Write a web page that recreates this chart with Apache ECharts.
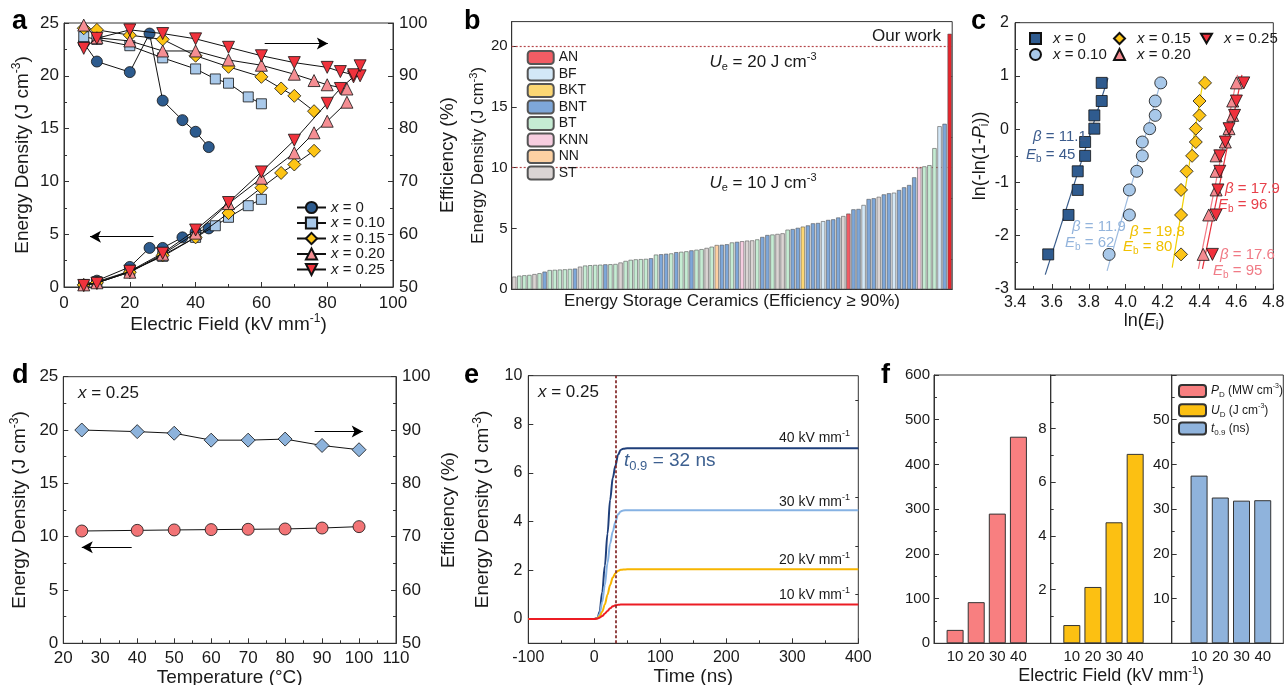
<!DOCTYPE html>
<html>
<head>
<meta charset="utf-8">
<title>Energy storage figure</title>
<script src="https://cdn.jsdelivr.net/npm/echarts@6.0.0/dist/echarts.min.js"></script>
<style>
html,body{margin:0;padding:0;background:#ffffff;}
#chart{width:1285px;height:685px;}
</style>
</head>
<body>
<div id="chart"></div>
<script>
// ===== Panel a: energy density (left) & efficiency (right) vs electric field =====
const fieldA0 = [6, 10, 20, 26, 30, 36, 40, 44];
const edA0 = [0.2, 0.6, 1.9, 3.7, 3.7, 4.7, 5.2, 5.55];
const effA0 = [96.2, 92.7, 90.7, 98.0, 85.3, 81.6, 79.4, 76.5];
const fieldA1 = [6, 10, 20, 30, 40, 46, 50, 56, 60];
const edA1 = [0.2, 0.5, 1.5, 2.9, 4.7, 5.8, 6.6, 7.7, 8.3];
const effA1 = [97.4, 96.9, 95.7, 93.4, 91.3, 89.4, 88.6, 86.0, 84.7];
const fieldA2 = [6, 10, 20, 30, 40, 50, 60, 66, 70, 76];
const edA2 = [0.2, 0.4, 1.4, 3.0, 4.7, 7.0, 9.4, 10.8, 11.6, 12.9];
const effA2 = [99.0, 98.7, 97.7, 96.9, 93.8, 91.7, 89.8, 87.6, 86.2, 83.3];
const fieldA3 = [6, 10, 20, 30, 40, 50, 60, 70, 76, 80, 86];
const edA3 = [0.2, 0.4, 1.4, 3.1, 5.1, 7.9, 10.3, 12.7, 14.6, 15.7, 17.5];
const effA3 = [99.6, 97.2, 96.6, 94.7, 94.7, 93.0, 92.0, 90.3, 89.1, 88.3, 87.5];
const fieldA4 = [6, 10, 20, 30, 40, 50, 60, 70, 80, 84, 88, 90];
const edA4 = [0.15, 0.35, 1.5, 3.2, 5.4, 8.0, 10.9, 13.9, 17.4, 18.8, 19.9, 20.0];
const effA4 = [95.2, 97.1, 98.7, 98.0, 97.0, 95.4, 93.8, 92.5, 91.6, 90.8, 90.2, 91.9];
const compsA = ['0', '0.10', '0.15', '0.20', '0.25'];

// ===== Panel b: literature comparison (energy density, efficiency >= 90%) =====
const valuesB = [
  1.04, 1.12, 1.15, 1.18, 1.25, 1.32, 1.45, 1.58, 1.60, 1.62,
  1.64, 1.67, 1.70, 1.86, 1.95, 1.98, 2.00, 2.02, 2.05, 2.06,
  2.08, 2.20, 2.33, 2.42, 2.46, 2.48, 2.50, 2.55, 2.85, 2.88,
  2.92, 2.95, 3.05, 3.08, 3.12, 3.20, 3.25, 3.30, 3.40, 3.50,
  3.64, 3.66, 3.70, 3.85, 3.90, 3.95, 4.00, 4.02, 4.10, 4.30,
  4.46, 4.50, 4.55, 4.60, 4.90, 4.95, 5.05, 5.15, 5.25, 5.42,
  5.45, 5.60, 5.70, 5.75, 5.90, 6.02, 6.22, 6.57, 6.60, 6.93,
  7.42, 7.48, 7.60, 7.80, 7.89, 7.94, 8.16, 8.38, 8.57, 9.20,
  10.00, 10.10, 10.20, 11.60, 13.40, 13.60, 21.00
];
const typesB = [
  'ST','BT','BT','BT','ST','BT','BNT','BT','BT','BT',
  'BT','BT','BNT','ST','BT','BT','BT','BT','BNT','BT',
  'BT','ST','BT','BT','BT','BT','BT','BNT','BT','BNT',
  'BNT','BT','BNT','BT','BT','BNT','BT','BT','ST','BT',
  'NN','BNT','BNT','BT','BNT','KNN','ST','ST','BT','BNT',
  'BNT','BT','ST','ST','BT','BNT','BNT','BKT','BNT','BNT',
  'BNT','BF','BNT','BNT','BNT','ST','AN','BNT','BNT','BF',
  'BNT','BNT','ST','BNT','BNT','BF','BNT','BNT','BNT','BNT',
  'KNN','BT','BT','BT','BF','BNT','OUR'
];
const ceramicsB = valuesB.map(function (v, i) { return String(i + 1); });
const legendB = ['AN', 'BF', 'BKT', 'BNT', 'BT', 'KNN', 'NN', 'ST'];
const refLinesB = [20, 10];

// ===== Panel c: Weibull plots =====
const probC = [-2.35, -1.61, -1.14, -0.79, -0.50, -0.24, 0.01, 0.26, 0.53, 0.87];
const lnEC0 = [3.58, 3.69, 3.74, 3.74, 3.78, 3.78, 3.83, 3.83, 3.87, 3.87];
const lnEC1 = [3.91, 4.02, 4.02, 4.06, 4.09, 4.09, 4.13, 4.16, 4.16, 4.19];
const lnEC2 = [4.30, 4.30, 4.30, 4.33, 4.36, 4.38, 4.38, 4.40, 4.40, 4.43];
const lnEC3 = [4.42, 4.45, 4.49, 4.49, 4.49, 4.54, 4.56, 4.58, 4.58, 4.60];
const lnEC4 = [4.47, 4.49, 4.50, 4.51, 4.51, 4.54, 4.56, 4.59, 4.60, 4.64];
const fitXC0 = [3.564, 3.904], fitYC0 = [-2.73, 0.96];
const fitXC1 = [3.899, 4.194], fitYC1 = [-2.66, 0.94];
const fitXC2 = [4.252, 4.424], fitYC2 = [-2.60, 1.00];
const fitXC3 = [4.394, 4.606], fitYC3 = [-2.62, 1.02];
const fitXC4 = [4.416, 4.630], fitYC4 = [-2.62, 1.02];
const compsC = ['0', '0.10', '0.15', '0.20', '0.25'];

// ===== Panel d: temperature stability (x = 0.25) =====
const tempD = [25, 40, 50, 60, 70, 80, 90, 100];
const edD = [10.53, 10.59, 10.63, 10.66, 10.69, 10.72, 10.81, 10.94];
const effD = [90.0, 89.7, 89.4, 88.1, 88.1, 88.3, 87.1, 86.3];

// ===== Panel e: discharge energy density vs time =====
const timeE = [-100, 0, 5, 8, 12, 16, 20, 24, 28, 32, 36, 40, 44, 50, 100, 200, 300, 400];
const ud40E = [0, 0, 0.05, 0.3, 1.1, 2.2, 3.5, 4.9, 5.8, 6.3, 6.75, 6.95, 7.0, 7.02, 7.02, 7.02, 7.02, 7.02];
const ud30E = [0, 0, 0.04, 0.2, 0.7, 1.4, 2.3, 3.1, 3.6, 4.0, 4.3, 4.42, 4.46, 4.47, 4.47, 4.47, 4.47, 4.47];
const ud20E = [0, 0, 0.03, 0.1, 0.3, 0.6, 1.0, 1.4, 1.7, 1.88, 1.98, 2.02, 2.03, 2.04, 2.04, 2.04, 2.04, 2.04];
const ud10E = [0, 0, 0.02, 0.05, 0.12, 0.22, 0.33, 0.44, 0.52, 0.56, 0.58, 0.59, 0.6, 0.6, 0.6, 0.6, 0.6, 0.6];
const fieldLabelsE = ['40', '30', '20', '10'];
const t09E = 32;

// ===== Panel f: discharge parameters =====
const fieldsF = ['10', '20', '30', '40'];
const pdF = [30, 92, 290, 462];
const udF = [0.68, 2.1, 4.51, 7.06];
const t09F = [37.5, 32.6, 31.9, 32.0];

// ===================== styling =====================
const FONT = 'Liberation Sans, Arial, Helvetica, sans-serif';
const TXT = '#1a1a1a';
const DOWN = 'path://M0,0L10,0L5,8.66Z';

function R(fs, col) {
  col = col || TXT;
  const b = {fontFamily: FONT, color: col, fill: col};
  const s1 = Math.round(fs * 0.62), s2 = Math.round(fs * 0.66);
  return {
    m: Object.assign({fontSize: fs, lineHeight: fs + 4, verticalAlign: 'middle'}, b),
    mi: Object.assign({fontSize: fs, lineHeight: fs + 4, verticalAlign: 'middle', fontStyle: 'italic'}, b),
    sup: Object.assign({fontSize: s1, lineHeight: s1 + 1, verticalAlign: 'top'}, b),
    sub: Object.assign({fontSize: s2, lineHeight: s2 + 1, verticalAlign: 'bottom'}, b)
  };
}
function merge(a, b) {
  const o = Object.assign({}, a);
  for (const k in b) {
    const v = b[k];
    if (v && typeof v === 'object' && !Array.isArray(v) && a[k] && typeof a[k] === 'object' && !Array.isArray(a[k])) o[k] = merge(a[k], v);
    else o[k] = v;
  }
  return o;
}
function vAx(fs, nfs, o) {
  return merge({
    type: 'value',
    axisLine: {show: true, onZero: false, lineStyle: {color: '#333', width: 1}},
    axisTick: {show: true, inside: true, length: 5, lineStyle: {color: '#333', width: 1}},
    minorTick: {show: true, splitNumber: 2, length: 3, lineStyle: {color: '#333', width: 1}},
    splitLine: {show: false},
    minorSplitLine: {show: false},
    axisLabel: {color: TXT, fontSize: fs, fontFamily: FONT},
    nameLocation: 'middle',
    nameTextStyle: {color: TXT, fontSize: nfs, fontFamily: FONT, rich: R(nfs)}
  }, o);
}
const ED_NAME = '{m|Energy Density (J cm}{sup|-3}{m|)}';
const EF_NAME = '{m|Electric Field (kV mm}{sup|-1}{m|)}';

const grids = [
  {left: 64, top: 23, width: 329, height: 264},
  {left: 511.7, top: 21.6, width: 440.5, height: 267.7},
  {left: 1015, top: 22.7, width: 258.3, height: 266.3},
  {left: 63.3, top: 376.7, width: 332.7, height: 266.6},
  {left: 528.3, top: 375.7, width: 330, height: 267.6},
  {left: 934, top: 375, width: 116.7, height: 268.3},
  {left: 1050.7, top: 375, width: 121, height: 268.3},
  {left: 1171.7, top: 375, width: 111.6, height: 268.3}
].map(function (g) {
  return Object.assign({show: true, borderColor: '#333', borderWidth: 1, containLabel: false, outerBoundsMode: 'none'}, g);
});

const xAxes = [
  vAx(17, 19, {gridIndex: 0, min: 0, max: 100, interval: 20, axisLabel: {margin: 8}, name: EF_NAME, nameGap: 22}),
  {type: 'category', gridIndex: 1, data: ceramicsB, axisLine: {show: true, lineStyle: {color: '#333'}},
    axisTick: {show: false}, axisLabel: {show: false}, name: 'Energy Storage Ceramics (Efficiency \u2265 90%)',
    nameLocation: 'middle', nameGap: 4, nameTextStyle: {color: TXT, fontSize: 17, fontFamily: FONT}},
  vAx(16, 18, {gridIndex: 2, min: 3.4, max: 4.8, interval: 0.2, axisLabel: {margin: 6, formatter: function (v) { return v.toFixed(1); }},
    name: '{m|ln(}{mi|E}{sub|i}{m|)}', nameGap: 20}),
  vAx(17, 19, {gridIndex: 3, min: 20, max: 110, interval: 10, axisLabel: {margin: 7}, name: '{m|Temperature (\u00B0C)}', nameGap: 22}),
  vAx(16, 19, {gridIndex: 4, min: -100, max: 400, interval: 100, axisLabel: {margin: 6}, name: '{m|Time (ns)}', nameGap: 22}),
  vAx(15, 18, {gridIndex: 5, min: 0, max: 5.53, axisTick: {show: false}, minorTick: {show: false},
    axisLabel: {margin: 6, customValues: [1, 2, 3, 4], formatter: function (v) { return fieldsF[Math.round(v) - 1]; }}}),
  vAx(15, 18, {gridIndex: 6, min: 0, max: 5.73, axisTick: {show: false}, minorTick: {show: false},
    axisLabel: {margin: 6, customValues: [1, 2, 3, 4], formatter: function (v) { return fieldsF[Math.round(v) - 1]; }},
    name: EF_NAME, nameGap: 22}),
  vAx(15, 18, {gridIndex: 7, min: -0.29, max: 4.97, axisTick: {show: false}, minorTick: {show: false},
    axisLabel: {margin: 6, customValues: [1, 2, 3, 4], formatter: function (v) { return fieldsF[Math.round(v) - 1]; }}})
];

const yAxes = [
  vAx(17, 19, {gridIndex: 0, min: 0, max: 25, interval: 5, axisLabel: {margin: 5}, name: ED_NAME, nameGap: 30}),
  vAx(17, 19, {gridIndex: 0, position: 'right', min: 50, max: 100, interval: 10, axisLabel: {margin: 6}, name: '{m|Efficiency (%)}', nameGap: 43}),
  vAx(15, 17, {gridIndex: 1, min: 0, max: 22, axisLabel: {margin: 4, customValues: [0, 5, 10, 15, 20]},
    axisTick: {customValues: [0, 5, 10, 15, 20]}, minorTick: {show: false}, name: ED_NAME, nameGap: 21}),
  vAx(15, 17, {gridIndex: 1, min: 0, max: 22, axisLine: {show: false}, axisLabel: {show: false},
    axisTick: {customValues: [2.5, 7.5, 12.5, 17.5], length: 3}, minorTick: {show: false}}),
  vAx(16, 18, {gridIndex: 2, min: -3, max: 2, interval: 1, axisLabel: {margin: 6},
    name: '{m|ln(-ln(1-}{mi|P}{sub|i}{m|))}', nameGap: 24}),
  vAx(17, 19, {gridIndex: 3, min: 0, max: 25, interval: 5, axisLabel: {margin: 5}, name: ED_NAME, nameGap: 32}),
  vAx(17, 19, {gridIndex: 3, position: 'right', min: 50, max: 100, interval: 10, axisLabel: {margin: 6}, name: '{m|Efficiency (%)}', nameGap: 41}),
  vAx(16, 19, {gridIndex: 4, min: -1, max: 10, axisLabel: {margin: 6, customValues: [0, 2, 4, 6, 8, 10]},
    axisTick: {customValues: [0, 2, 4, 6, 8, 10]}, minorTick: {show: false}, name: ED_NAME, nameGap: 34}),
  vAx(16, 19, {gridIndex: 4, min: -1, max: 10, axisLine: {show: false}, axisLabel: {show: false},
    axisTick: {customValues: [1, 3, 5, 7, 9], length: 3}, minorTick: {show: false}}),
  vAx(15, 18, {gridIndex: 5, min: 0, max: 600, interval: 100, axisLabel: {margin: 4}}),
  vAx(15, 18, {gridIndex: 6, min: 0, max: 10, interval: 2,
    axisLabel: {margin: 4, formatter: function (v) { return (v === 0 || v === 10) ? '' : String(v); }}}),
  vAx(15, 18, {gridIndex: 7, min: 0, max: 60, interval: 10,
    axisLabel: {margin: 2, formatter: function (v) { return (v === 0 || v === 60) ? '' : String(v); }}})
];

const series = [];

// ---- panel a
const fieldsA = [fieldA0, fieldA1, fieldA2, fieldA3, fieldA4];
const edsA = [edA0, edA1, edA2, edA3, edA4];
const effsA = [effA0, effA1, effA2, effA3, effA4];
const symA = ['circle', 'rect', 'diamond', 'triangle', DOWN];
const colA = ['#2d5b8e', '#a9c9ea', '#fdc414', '#f58e93', '#f0323c'];
const sizeA = [11, 10, 13, 12, 12];
const arrowStyle = {silent: true, symbol: ['none', 'arrow'], symbolSize: [9, 11], label: {show: false},
  lineStyle: {color: '#000', width: 1.2, type: 'solid'}, emphasis: {disabled: true}};
for (let i = 0; i < 5; i++) {
  const base = {
    type: 'line', name: 'a:' + compsA[i], xAxisIndex: 0, symbol: symA[i], symbolSize: sizeA[i],
    lineStyle: {color: '#111', width: 1}, itemStyle: {color: colA[i], borderColor: '#111', borderWidth: 0.8},
    z: 3 + i
  };
  series.push(Object.assign({}, base, {yAxisIndex: 0,
    data: fieldsA[i].map(function (e, j) { return [e, edsA[i][j]]; }),
    markLine: i === 0 ? Object.assign({data: [[{coord: [27.2, 4.76]}, {coord: [7.9, 4.76]}]]}, arrowStyle) : undefined}));
  series.push(Object.assign({}, base, {yAxisIndex: 1,
    data: fieldsA[i].map(function (e, j) { return [e, effsA[i][j]]; }),
    markLine: i === 0 ? Object.assign({data: [[{coord: [61, 96.1]}, {coord: [80.2, 96.1]}]]}, arrowStyle) : undefined}));
}

// ---- panel b
const colB = {AN: '#f25c64', BF: '#d3e8f7', BKT: '#fcd774', BNT: '#7ea7d9', BT: '#c5ecd3',
  KNN: '#f6cde0', NN: '#fdd1a3', ST: '#dad4d3', OUR: '#e8242c'};
legendB.concat(['OUR']).forEach(function (code, k) {
  const s = {
    type: 'bar', name: code === 'OUR' ? 'Our work' : code, xAxisIndex: 1, yAxisIndex: 2,
    data: valuesB.map(function (v, i) { return typesB[i] === code ? v : '-'; }),
    barGap: '-100%', barCategoryGap: '16%',
    itemStyle: {color: colB[code], borderColor: '#555', borderWidth: 0.6}, z: 3
  };
  if (k === 0) {
    s.markLine = {silent: true, z: 1, symbol: ['none', 'none'], label: {show: false},
      lineStyle: {color: '#b5474b', type: [2, 2], width: 1.2},
      data: refLinesB.map(function (v) { return {yAxis: v}; })};
  }
  series.push(s);
});

// ---- panel c
const lnEsC = [lnEC0, lnEC1, lnEC2, lnEC3, lnEC4];
const fitsC = [[fitXC0, fitYC0], [fitXC1, fitYC1], [fitXC2, fitYC2], [fitXC3, fitYC3], [fitXC4, fitYC4]];
const symC = ['rect', 'circle', 'diamond', 'triangle', DOWN];
const colC = ['#2f5b8f', '#a8c8e9', '#fcc417', '#f48a90', '#f0303c'];
const sizeC = [11, 12, 13, 12, 12];
const fitColC = ['#365a8a', '#9dbbe0', '#f2d000', '#f27a86', '#e8303c'];
for (let i = 0; i < 5; i++) {
  series.push({type: 'line', name: 'fit' + i, xAxisIndex: 2, yAxisIndex: 4, showSymbol: false, symbol: 'none',
    lineStyle: {color: fitColC[i], width: 1.2}, z: 2,
    data: fitsC[i][0].map(function (x, j) { return [x, fitsC[i][1][j]]; })});
}
for (let i = 0; i < 5; i++) {
  series.push({type: 'scatter', name: 'c:' + compsC[i], xAxisIndex: 2, yAxisIndex: 4, symbol: symC[i], symbolSize: sizeC[i],
    itemStyle: {color: colC[i], borderColor: '#111', borderWidth: 0.8, opacity: 1}, z: 4 + i,
    data: lnEsC[i].map(function (x, j) { return [x, probC[j]]; })});
}

// ---- panel d
series.push({type: 'line', name: 'dED', xAxisIndex: 3, yAxisIndex: 5, symbol: 'circle', symbolSize: 12,
  lineStyle: {color: '#111', width: 1}, itemStyle: {color: '#f27476', borderColor: '#111', borderWidth: 0.8},
  data: tempD.map(function (t, j) { return [t, edD[j]]; }),
  markLine: Object.assign({data: [[{coord: [38.5, 9.0]}, {coord: [25, 9.0]}]]}, arrowStyle)});
series.push({type: 'line', name: 'dEff', xAxisIndex: 3, yAxisIndex: 6, symbol: 'diamond', symbolSize: 14,
  lineStyle: {color: '#111', width: 1}, itemStyle: {color: '#8db3dc', borderColor: '#111', borderWidth: 0.8},
  data: tempD.map(function (t, j) { return [t, effD[j]]; }),
  markLine: Object.assign({data: [[{coord: [88, 89.7]}, {coord: [101, 89.7]}]]}, arrowStyle)});

// ---- panel e
const udsE = [ud40E, ud30E, ud20E, ud10E];
const colE = ['#1f3f7a', '#86b2e3', '#f7b500', '#ec1c24'];
udsE.forEach(function (arr, k) {
  const s = {type: 'line', name: 'e' + fieldLabelsE[k], xAxisIndex: 4, yAxisIndex: 7, showSymbol: false, symbol: 'none',
    smooth: 0.35, smoothMonotone: 'x', lineStyle: {color: colE[k], width: 2}, z: 3 + k,
    data: timeE.map(function (t, j) { return [t, arr[j]]; })};
  if (k === 0) {
    s.markLine = {silent: true, symbol: ['none', 'none'], label: {show: false}, z: 10,
      lineStyle: {color: '#7a1a1a', type: [3, 2], width: 1.6}, data: [{xAxis: t09E}]};
  }
  series.push(s);
});

// ---- panel f
const fData = [[pdF, 5, 9, '#f87f80', 'PD'], [udF, 6, 10, '#fcc012', 'UD'], [t09F, 7, 11, '#8fb3dc', 't09']];
fData.forEach(function (d) {
  series.push({type: 'bar', name: d[4], xAxisIndex: d[1], yAxisIndex: d[2], barWidth: 17,
    itemStyle: {color: d[3], borderColor: '#333', borderWidth: 1},
    data: d[0].map(function (v, i) { return [i + 1, v]; })});
});

// ===================== legends =====================
const legends = [];
legends.push({
  data: compsA.map(function (c) { return 'a:' + c; }), orient: 'vertical', left: 296, top: 200,
  itemWidth: 29, itemHeight: 14, itemGap: 0.5, padding: 0, selectedMode: false,
  formatter: function (n) { return '{mi|x}{m| = ' + n.slice(2) + '}'; },
  textStyle: {fontSize: 15, fontFamily: FONT, color: TXT, rich: {
    m: {fontSize: 15, lineHeight: 15, fontFamily: FONT, color: TXT},
    mi: {fontSize: 15, lineHeight: 15, fontFamily: FONT, color: TXT, fontStyle: 'italic'}}}
});
legends.push({
  data: legendB, orient: 'vertical', left: 526.7, top: 50, itemWidth: 26, itemHeight: 13, itemGap: 1.5,
  padding: 0, selectedMode: false,
  textStyle: {fontSize: 14, lineHeight: 13, fontFamily: FONT, color: TXT}
});
const cLegPos = [[1029, 31], [1029, 47], [1113, 31], [1113, 47], [1200, 31]];
compsC.forEach(function (c, i) {
  legends.push({
    data: ['c:' + c], left: cLegPos[i][0], top: cLegPos[i][1], itemWidth: 11, itemHeight: 11, padding: 0,
    selectedMode: false,
    formatter: function (n) { return '{mi|x}{m| = ' + n.slice(2) + '}'; },
    textStyle: {fontSize: 15, fontFamily: FONT, color: TXT, padding: [0, 0, 0, 7], rich: {
      m: {fontSize: 15, lineHeight: 14, fontFamily: FONT, color: TXT},
      mi: {fontSize: 15, lineHeight: 14, fontFamily: FONT, color: TXT, fontStyle: 'italic'}}}
  });
});
const fLegText = {PD: '{mi|P}{sub|D}{m| (MW cm}{sup|-3}{m|)}', UD: '{mi|U}{sub|D}{m| (J cm}{sup|-3}{m|)}', t09: '{mi|t}{sub|0.9}{m| (ns)}'};
legends.push({
  data: ['PD', 'UD', 't09'], orient: 'vertical', left: 1178, top: 383, itemWidth: 27, itemHeight: 12, itemGap: 3.3,
  padding: 0, selectedMode: false,
  formatter: function (n) { return fLegText[n]; },
  textStyle: {fontSize: 12, fontFamily: FONT, color: TXT, rich: R(12)}
});

// ===================== annotation texts =====================
const G = [];
function gt(x, y, text, fs, col, align) {
  G.push({type: 'text', x: x, y: y, silent: true, z: 100,
    style: {legacy: false, text: text, fontSize: fs, fontFamily: FONT, fill: col || TXT,
      align: align || 'left', verticalAlign: 'middle', rich: R(fs, col)}});
}
function plab(x, y, t) {
  G.push({type: 'text', x: x, y: y, silent: true, z: 100,
    style: {legacy: false, text: t, fontSize: 27, fontWeight: 'bold', fontFamily: FONT, fill: '#000', align: 'left', verticalAlign: 'middle'}});
}
plab(12, 22, 'a'); plab(464, 22, 'b'); plab(971, 22, 'c');
plab(12, 376, 'd'); plab(464, 376, 'e'); plab(881, 376, 'f');

gt(941, 36, '{m|Our work}', 17, TXT, 'right');
gt(763, 62, '{mi|U}{sub|e}{m| = 20 J cm}{sup|-3}', 17, TXT, 'center');
gt(763, 183, '{mi|U}{sub|e}{m| = 10 J cm}{sup|-3}', 17, TXT, 'center');

gt(1033, 137, '{mi|\u03B2}{m| = 11.1}', 15, '#3b5b8c');
gt(1026, 155, '{mi|E}{sub|b}{m| = 45}', 15, '#3b5b8c');
gt(1072, 227, '{mi|\u03B2}{m| = 11.9}', 15, '#93b4dc');
gt(1065, 243, '{mi|E}{sub|b}{m| = 62}', 15, '#93b4dc');
gt(1130, 232, '{mi|\u03B2}{m| = 19.8}', 15, '#f0c000');
gt(1123, 247, '{mi|E}{sub|b}{m| = 80}', 15, '#f0c000');
gt(1225, 189, '{mi|\u03B2}{m| = 17.9}', 15, '#e8404a');
gt(1218, 205, '{mi|E}{sub|b}{m| = 96}', 15, '#e8404a');
gt(1220, 255, '{mi|\u03B2}{m| = 17.6}', 15, '#f07a85');
gt(1213, 271, '{mi|E}{sub|b}{m| = 95}', 15, '#f07a85');

gt(78, 393, '{mi|x}{m| = 0.25}', 17);
gt(538, 392, '{mi|x}{m| = 0.25}', 17);
gt(624, 461, '{mi|t}{sub|0.9}{m| = 32 ns}', 19, '#3d6090');
const kvY = [438, 502, 560, 595];
fieldLabelsE.forEach(function (f, k) {
  gt(850, kvY[k], '{m|' + f + ' kV mm}{sup|-1}', 14, TXT, 'right');
});

const option = {
  animation: false,
  backgroundColor: '#ffffff',
  textStyle: {fontFamily: FONT},
  grid: grids,
  xAxis: xAxes,
  yAxis: yAxes,
  legend: legends,
  series: series,
  graphic: G
};
const chart = echarts.init(document.getElementById('chart'), null, {renderer: 'canvas'});
chart.setOption(option);
</script>
</body>
</html>
